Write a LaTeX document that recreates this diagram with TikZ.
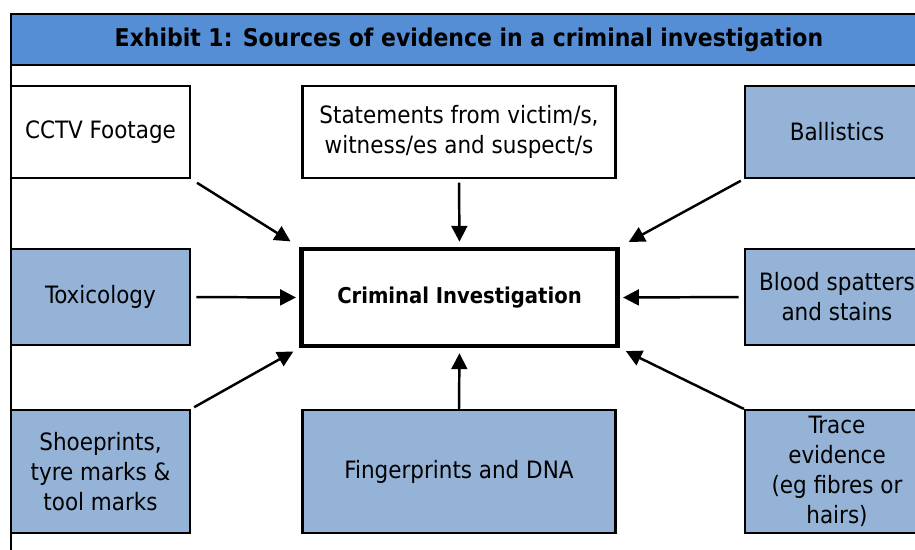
\documentclass[tikz,border=0pt]{standalone}
\usepackage{fontspec}
\setmainfont{DejaVu Sans Condensed}
\usetikzlibrary{positioning,arrows.meta}
\definecolor{titleblue}{RGB}{85,142,213}
\definecolor{boxblue}{RGB}{149,179,215}

\begin{document}
\begin{tikzpicture}[x=0.02cm,y=-0.02cm]
        % Define styles for nodes and edges
        \tikzstyle{plain} = [rectangle, draw, line width=1.2pt, fill=white, align=center, inner sep=0pt, font=\fontsize{13.6}{17}\selectfont]
        \tikzstyle{shaded} = [plain, fill=boxblue]
        \tikzstyle{hub} = [plain, line width=2.3pt, font=\fontsize{12.4}{17}\selectfont\bfseries]
        \tikzstyle{arrow} = [line width=1.4pt, -{Triangle[length=9pt, width=9pt]}]

        \useasboundingbox (0,0) rectangle (915,549);

        % Frame and title bar
        \fill[titleblue] (11,14) rectangle (940,65);
        \draw[line width=1.2pt] (11,14) rectangle (940,570);
        \draw[line width=1.2pt] (11,65) -- (940,65);
        \node[font=\fontsize{13.9}{17}\selectfont\bfseries] (title) at (469,40) {Exhibit 1: Sources of evidence in a criminal investigation};

        % Nodes
        \node[hub, minimum width=316*0.02cm, minimum height=97*0.02cm] (crime) at (459.5,297.5) {Criminal Investigation};
        \node[plain, minimum width=179*0.02cm, minimum height=92*0.02cm] (cctv) at (100.5,132) {CCTV Footage};
        \node[plain, minimum width=313*0.02cm, minimum height=92*0.02cm] (stmt) at (459,132) {Statements from victim/s,\\witness/es and suspect/s};
        \node[shaded, minimum width=184*0.02cm, minimum height=92*0.02cm] (ball) at (837,132) {Ballistics};
        \node[shaded, minimum width=179*0.02cm, minimum height=96*0.02cm] (tox) at (100.5,297) {Toxicology};
        \node[shaded, minimum width=184*0.02cm, minimum height=96*0.02cm] (blood) at (837,297) {Blood spatters\\and stains};
        \node[shaded, minimum width=179*0.02cm, minimum height=123*0.02cm] (shoe) at (100.5,471.5) {Shoeprints,\\tyre marks \&\\tool marks};
        \node[shaded, minimum width=313*0.02cm, minimum height=123*0.02cm] (finger) at (459,471.5) {Fingerprints and DNA};
        \node[shaded, minimum width=184*0.02cm, minimum height=123*0.02cm] (trace) at (837,471.5) {Trace\\evidence\\(eg fibres or\\hairs)};

        % Arrows
        \draw[arrow, shorten <=4pt, shorten >=6pt] (cctv.south east) -- (crime.north west);
        \draw[arrow, shorten <=2pt, shorten >=3pt] (stmt.south) -- (crime.north);
        \draw[arrow, shorten <=2pt, shorten >=6pt] (ball.south west) -- (crime.north east);
        \draw[arrow, shorten <=3pt, shorten >=2pt] (tox.east) -- (crime.west);
        \draw[arrow, shorten <=3pt, shorten >=2pt] (blood.west) -- (crime.east);
        \draw[arrow, shorten <=2pt, shorten >=4pt] (shoe.north east) -- (crime.south west);
        \draw[arrow, shorten >=3pt] (finger.north) -- (crime.south);
        \draw[arrow, shorten >=4pt] (trace.north west) -- (crime.south east);
\end{tikzpicture}
\end{document}
